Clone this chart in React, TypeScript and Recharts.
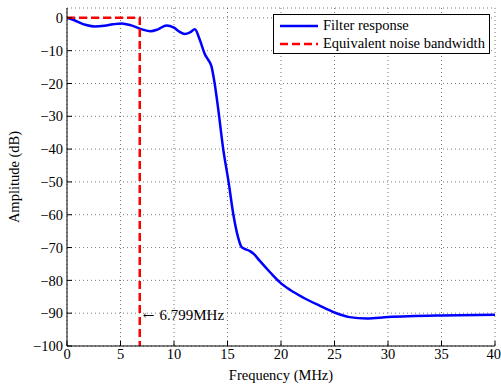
import { LineChart, Line, XAxis, YAxis, CartesianGrid, ReferenceDot } from "recharts";

// filter response
const freqMHz = [0, 0.5, 1.8, 2.6, 3.5, 4.3, 5.1, 6, 7, 7.8, 8.5, 9.3, 10, 10.5, 11, 11.5, 11.95, 12.4, 12.9, 13.2, 13.5, 13.8, 14.1, 14.6, 15.1, 15.55, 16.0, 16.3, 16.6, 17.1, 17.5, 18.0, 19.0, 19.9, 20.8, 22.1, 23.6, 25, 26.4, 28, 30, 35, 40];
const amplitudeDb = [0, -0.5, -2.2, -2.65, -2.4, -1.95, -1.7, -2.3, -3.5, -4.1, -3.5, -2.3, -3.0, -4.2, -4.9, -4.4, -3.5, -6.6, -11.2, -12.8, -14.8, -20, -27, -40, -50, -60, -67, -69.8, -70.4, -71.1, -72.1, -74.0, -77.6, -80.6, -82.8, -85.3, -87.7, -89.8, -91.2, -91.6, -91.2, -90.7, -90.5];

// equivalent noise bandwidth box
const enbFreq = [0, 6.799, 6.799];
const enbDb = [0, 0, -100];
const enbLabel = "6.799MHz";

const xTicks = [0, 5, 10, 15, 20, 25, 30, 35, 40];
const yTicks = [0, -10, -20, -30, -40, -50, -60, -70, -80, -90, -100];

const responseData = freqMHz.map((f, i) => ({ f, db: amplitudeDb[i] }));
const enbData = enbFreq.map((f, i) => ({ f, db: enbDb[i] }));

const font = "'Liberation Serif', 'Times New Roman', serif";
const tickStyle = { fontSize: 14.5, fill: "#000", fontFamily: font };
const fmt = (v: number) => String(v).replace("-", "\u2212");

// arrow + value next to the dashed line
const EnbLabel = (props: any) => {
  const { viewBox } = props;
  const x = viewBox.x + 3;
  const y = viewBox.y;
  return (
    <text x={x} y={y} dy="0.35em" fontSize={15} fill="#000" fontFamily={font}>
      <tspan fontFamily="'DejaVu Serif', serif" fontSize={14}>{"\u2190"}</tspan>
      <tspan dx={5}>{enbLabel}</tspan>
    </text>
  );
};

export default function App() {
  return (
    <div style={{ position: "absolute", left: 0, top: 0, width: 501, height: 385, background: "#fff" }}>
      <LineChart width={501} height={385} data={responseData} margin={{ top: 8, right: 6, left: 0, bottom: 0 }}>
        <CartesianGrid stroke="#555" strokeDasharray="1 3" strokeWidth={0.8} />
        <XAxis
          dataKey="f"
          type="number"
          domain={[0, 40]}
          ticks={xTicks}
          height={39}
          stroke="#000"
          tickSize={-5}
          tickMargin={8}
          tick={tickStyle}
          allowDataOverflow
          label={{ value: "Frequency (MHz)", position: "insideBottom", offset: 5, style: { fontSize: 14.5, fill: "#000", fontFamily: font } }}
        />
        <XAxis xAxisId="top" orientation="top" type="number" domain={[0, 40]} ticks={xTicks} height={0} stroke="#000" tickSize={-5} tick={false} allowDataOverflow />
        <YAxis
          type="number"
          domain={[-100, 3]}
          ticks={yTicks}
          width={67}
          stroke="#000"
          tickSize={-5}
          tickMargin={9}
          tick={tickStyle}
          tickFormatter={fmt}
          allowDataOverflow
          label={{ value: "Amplitude (dB)", angle: -90, position: "insideLeft", offset: 14, style: { textAnchor: "middle", fontSize: 14.5, fill: "#000", fontFamily: font } }}
        />
        <YAxis yAxisId="right" orientation="right" type="number" domain={[-100, 3]} ticks={yTicks} width={0} stroke="#000" tickSize={-5} tick={false} allowDataOverflow />
        <Line dataKey="db" type="monotone" stroke="#0000ff" strokeWidth={2.5} dot={false} isAnimationActive={false} />
        <Line data={enbData} dataKey="db" type="linear" stroke="#ff0000" strokeWidth={2.5} strokeDasharray="8 4" dot={false} isAnimationActive={false} />
        <ReferenceDot x={6.799} y={-90.5} r={0} stroke="none" label={<EnbLabel />} />
      </LineChart>
      <div
        style={{
          position: "absolute",
          left: 273,
          top: 14,
          width: 215,
          height: 38,
          border: "1px solid #000",
          background: "#fff",
          fontFamily: font,
          fontSize: 14.5,
          color: "#000",
        }}
      >
        <div style={{ position: "absolute", left: 6, top: 2, display: "flex", alignItems: "center", height: 17 }}>
          <svg width={38} height={4} style={{ marginRight: 5 }}>
            <line x1={0} y1={2} x2={38} y2={2} stroke="#0000ff" strokeWidth={2.5} />
          </svg>
          <span>Filter response</span>
        </div>
        <div style={{ position: "absolute", left: 6, top: 20, display: "flex", alignItems: "center", height: 17 }}>
          <svg width={38} height={4} style={{ marginRight: 5 }}>
            <line x1={0} y1={2} x2={38} y2={2} stroke="#ff0000" strokeWidth={2.5} strokeDasharray="8 4" />
          </svg>
          <span>Equivalent noise bandwidth</span>
        </div>
      </div>
    </div>
  );
}
